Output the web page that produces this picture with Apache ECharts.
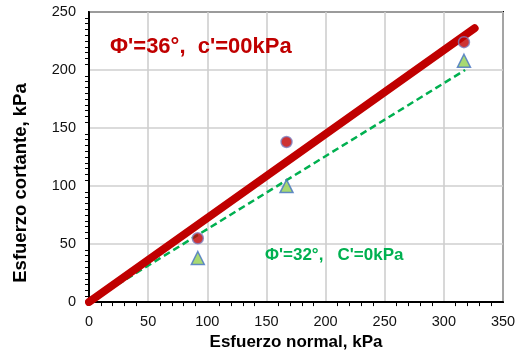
<!DOCTYPE html>
<html><head><meta charset="utf-8">
<script src="https://cdn.jsdelivr.net/npm/echarts@6/dist/echarts.min.js"></script>
<style>html,body{margin:0;padding:0;background:#fff}#c{width:522px;height:356px}</style>
</head><body><div id="c"></div>
<script>
const xTicks = [0, 50, 100, 150, 200, 250, 300, 350];
const yTicks = [0, 50, 100, 150, 200, 250];
const peakX = [92, 167, 317];
const peakY = [55, 138, 224];
const resX = [92, 167, 317];
const resY = [38, 100, 208];
const envPeakX = [0, 326];
const envPeakY = [0, 236];
const envResX = [0, 318];
const envResY = [0, 200];
const labelPeak = "Φ'=36°,  c'=00kPa";
const labelRes = "Φ'=32°,   C'=0kPa";
const xTitle = "Esfuerzo normal, kPa";
const yTitle = "Esfuerzo cortante, kPa";

const zip = (a, b) => a.map((v, i) => [v, b[i]]);
const font = "'Liberation Sans', Arial, sans-serif";
const chart = echarts.init(document.getElementById('c'), null, {renderer: 'canvas'});
chart.setOption({
  animation: false,
  backgroundColor: '#fff',
  grid: {left: 89, right: 19, top: 12, bottom: 53, show: true, borderColor: '#000', borderWidth: 2, backgroundColor: 'transparent'},
  xAxis: {
    type: 'value', min: xTicks[0], max: xTicks[xTicks.length - 1], interval: 50,
    name: xTitle, nameLocation: 'middle', nameGap: 31,
    nameTextStyle: {fontFamily: font, fontWeight: 'bold', fontSize: 17, color: '#000'},
    axisLine: {lineStyle: {color: '#000', width: 2}},
    axisTick: {show: false},
    minorTick: {show: true, splitNumber: 5, length: 4, lineStyle: {color: '#000', width: 1}},
    axisLabel: {fontFamily: font, fontSize: 14.5, color: '#111', margin: 12},
    splitLine: {lineStyle: {color: '#cfcfcf', width: 1.6}}
  },
  yAxis: {
    type: 'value', min: yTicks[0], max: yTicks[yTicks.length - 1], interval: 50,
    axisLine: {show: true, lineStyle: {color: '#000', width: 2}},
    axisTick: {show: false},
    minorTick: {show: true, splitNumber: 10, length: 4, lineStyle: {color: '#000', width: 1}},
    axisLabel: {fontFamily: font, fontSize: 14.5, color: '#111', margin: 13},
    splitLine: {lineStyle: {color: '#cfcfcf', width: 1.6}}
  },
  series: [
    {type: 'line', data: zip(envResX, envResY), showSymbol: false, symbol: 'none',
     lineStyle: {color: '#00b050', width: 2.5, type: [7, 4]}, z: 3},
    {type: 'line', data: zip(envPeakX, envPeakY), showSymbol: false, symbol: 'none',
     lineStyle: {color: '#c00000', width: 8, cap: 'round'}, z: 4},
    {type: 'scatter', data: zip(peakX, peakY), symbol: 'circle', symbolSize: 11,
     itemStyle: {color: '#c00000', borderColor: '#8080c0', borderWidth: 1.5}, z: 5},
    {type: 'scatter', data: zip(resX, resY), symbol: 'triangle', symbolSize: 13,
     itemStyle: {color: '#92d050', borderColor: '#4472c4', borderWidth: 1.5}, z: 5}
  ],
  graphic: [
    {type: 'text', left: 110, top: 36, z: 10,
     style: {text: labelPeak, fontFamily: font, fontWeight: 'bold', fontSize: 22, fill: '#c00000'}},
    {type: 'text', left: 265, top: 247, z: 10,
     style: {text: labelRes, fontFamily: font, fontWeight: 'bold', fontSize: 17, fill: '#00b050'}},
    {type: 'text', x: 21, y: 183, rotation: Math.PI / 2, z: 10,
     style: {text: yTitle, fontFamily: font, fontWeight: 'bold', fontSize: 18.5, fill: '#000', align: 'center', verticalAlign: 'middle'}}
  ]
});
</script></body></html>
